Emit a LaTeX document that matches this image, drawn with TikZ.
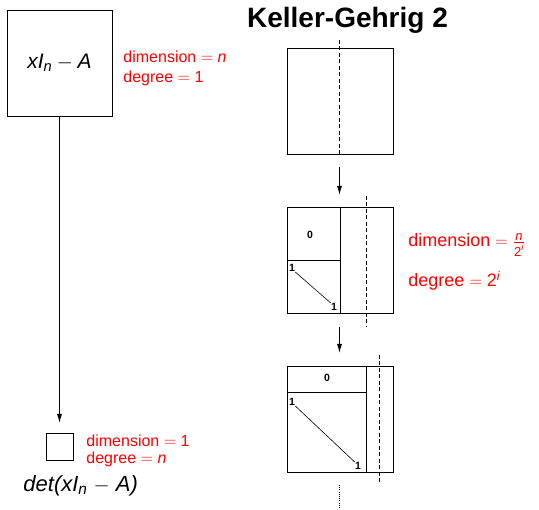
\documentclass[tikz,border=0pt]{standalone}
\usepackage{amsmath}
\usepackage{fontspec}
\setmainfont{Liberation Sans}
\usetikzlibrary{positioning,arrows.meta}
\newcommand{\fs}[1]{\fontsize{#1}{1.2\dimexpr#1pt\relax}\selectfont}
\begin{document}
\begin{tikzpicture}[x=1pt, y=-1pt, >={Latex[length=9pt,width=5pt]}, line width=0.9pt,
  box/.style={draw, inner sep=0pt, minimum size=106pt},
  info/.style={red, anchor=base west, align=left, inner sep=0pt},
  cut/.style={dash pattern=on 4pt off 2.5pt},
  tag/.style={font=\fs{10.5}\bfseries, inner sep=0pt}]
\useasboundingbox (0,0) rectangle (539,510);
% matrice de depart
\node[box, minimum width=105pt, font=\fs{21}] (big) at (59.5,63)
  {$\textit{xI}_{\textit{n}} - \textit{A}$};
\node[info, font=\fs{16}] (bigdim) at (123,63) {dimension $=$ \textit{n}};
\node[info, font=\fs{16}] (bigdeg) at (123,83) {degree $=$ 1};
% resultat
\node[draw, inner sep=0pt, minimum size=27pt] (small) at (59.5,446.5) {};
\coordinate (smalltip) at (59.5,423);
\draw[->] (big.south) -- (smalltip);
\node[info, font=\fs{16}] (smalldim) at (86,446.7) {dimension $=$ 1};
\node[info, font=\fs{16}] (smalldeg) at (86,463.3) {degree $=$ \textit{n}};
\node[anchor=base west, inner sep=0pt, font=\fs{22}] (det) at (23,491.7)
  {\textit{det(xI}$_{\textit{n}}$ $-$ \textit{A)}};
% titre
\node[anchor=base, font=\fs{28}\bfseries] (title) at (347.5,28) {Keller-Gehrig 2};
% etape 0
\node[box] (m0) at (340,101) {};
\draw[cut] (339.5,40) coordinate (c0a) -- (339.5,157) coordinate (c0b);
\draw[->] (339.5,167) coordinate (a1s) -- (339.5,195) coordinate (a1e);
% etape i
\node[box] (m1) at (340,260) {};
\draw (m1.north) -- (m1.south);
\draw (m1.west) -- (m1.center);
\node[tag] (z1) at (310,235) {0};
\node[tag] (o1a) at (292,268) {1};
\node[tag] (o1b) at (334,307) {1};
\draw[line width=0.6pt] (o1a.south east) -- (o1b.north west);
\draw[cut] (366,196) coordinate (c1a) -- (366,327) coordinate (c1b);
\draw[->] (339.5,327) coordinate (a2s) -- (339.5,353) coordinate (a2e);
\node[info, font=\fs{18}] (midim) at (408,247)
  {dimension $=$ $\frac{\mbox{\fs{13}\itshape n}}{\mbox{\fs{13}2}^{\mbox{\fs{9}\itshape i}}}$};
\node[info, font=\fs{18}] (mideg) at (408,287)
  {degree $=$ 2$^{\textit{i}}$};
% etape i+1
\node[box] (m2) at (340,419) {};
\draw (366,366) coordinate (v2a) -- (366,472) coordinate (v2b);
\draw (287,392) coordinate (h2a) -- (366,392) coordinate (h2b);
\node[tag] (z2) at (327,378) {0};
\node[tag] (o2a) at (292,402) {1};
\node[tag] (o2b) at (358,466) {1};
\draw[line width=0.6pt] (o2a.south east) -- (o2b.north west);
\draw[cut] (379.3,355) coordinate (c2a) -- (379.3,485) coordinate (c2b);
\draw[dash pattern=on 1pt off 1.2pt] (339.5,485) coordinate (d2a) -- (339.5,508) coordinate (d2b);
\end{tikzpicture}
\end{document}
